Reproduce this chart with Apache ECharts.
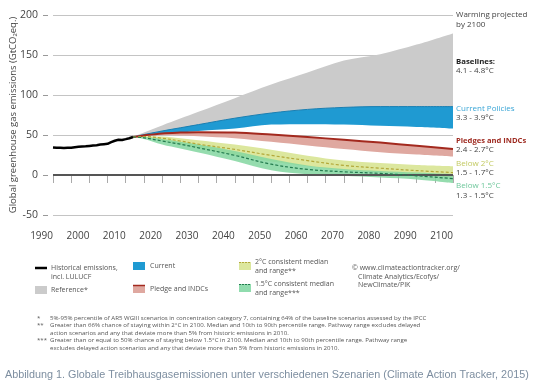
<!DOCTYPE html>
<html><head><meta charset="utf-8">
<script src="https://cdn.jsdelivr.net/npm/echarts@6/dist/echarts.min.js"></script>
<style>html,body{margin:0;padding:0;background:#fff}#c{width:540px;height:390px}</style>
</head><body><div id="c"></div>
<script>
// ---- data (GtCO2eq) ----
const histYears  = [1990,1991,1992,1993,1994,1995,1996,1997,1998,1999,2000,2001,2002,2003,2004,2005,2006,2007,2008,2009,2010,2011,2012];
const histValues = [34.5,34.2,34.0,33.8,34.0,34.2,34.8,35.2,35.5,35.8,36.3,36.8,37.3,38.0,38.5,39.0,41.0,42.8,44.0,43.7,44.8,46.0,47.5];

const projYears = [2012,2015,2020,2025,2030,2040,2050,2060,2070,2080,2090,2100];
const refLow    = [47.5,49.5,52.0,54.0,57.0,62.0,68.0,72.0,75.0,76.0,77.0,78.0];
const refHigh   = [47.5,53.0,62.0,70.5,79.0,96.0,113,128,143,151,163,177];
const curLow    = [47.5,49.0,51.5,53.0,55.0,58.0,63.0,63.5,63.0,61.5,60.0,58.0];
const curHigh   = [47.5,50.5,55.0,59.0,63.0,71.0,77.5,82.0,84.5,85.5,85.5,85.5];
const pleLow    = [47.5,49.0,50.0,49.5,48.5,46.0,41.5,37.0,32.5,28.5,25.5,23.0];
const pleHigh   = [47.5,49.5,52.0,53.0,53.5,53.0,50.5,47.5,44.0,40.5,36.5,32.5];
const t2Low     = [47.5,47.0,43.0,38.0,33.0,25.0,17.0,11.0,6.0,3.0,0.0,-3.0];
const t2Median  = [47.5,48.0,46.0,42.5,38.5,32.0,24.5,18.0,12.0,8.5,5.5,3.0];
const t2High    = [47.5,48.5,48.0,46.0,43.5,38.0,31.5,24.0,18.0,15.0,12.5,11.0];
const t15Low    = [47.5,45.0,38.0,33.0,28.0,17.5,6.0,1.0,-1.0,-3.0,-5.5,-10.0];
const t15Median = [47.5,46.5,42.5,38.5,34.0,24.5,13.5,7.0,4.0,2.0,-1.0,-4.5];
const t15High   = [47.5,47.5,45.0,41.5,38.0,30.0,20.0,12.0,7.5,5.0,3.0,1.0];

const xTickLabels = [1990,2000,2010,2020,2030,2040,2050,2060,2070,2080,2090,2100];
const yTickLabels = [-50,0,50,100,150,200];

// ---- build ----
const FONT = '"Open Sans", "Noto Sans", sans-serif';
const firstYear = xTickLabels[0], lastYear = xTickLabels[xTickLabels.length - 1];
const categories = [];
for (let y = firstYear; y <= lastYear; y++) categories.push(String(y));

const pts = arr => projYears.map((y, i) => [String(y), arr[i]]);
const diff = (hi, lo) => projYears.map((y, i) => [String(y), hi[i] - lo[i]]);

function band(id, lo, hi, color, edge) {
  return [
    { type: 'line', name: id + '_base', stack: id, stackStrategy: 'all', data: pts(lo), symbol: 'none', smooth: 0.35,
      lineStyle: { opacity: 0 }, silent: true },
    { type: 'line', name: id, stack: id, stackStrategy: 'all', data: diff(hi, lo), symbol: 'none', smooth: 0.35,
      lineStyle: edge ? edge : { opacity: 0 }, areaStyle: { color: color, opacity: 1 }, silent: true }
  ];
}

const series = [
  { type: 'line', name: 'zero', data: [[String(firstYear), 0], [String(lastYear), 0]],
    symbol: 'none', lineStyle: { color: '#555', width: 2 }, silent: true },
  ...band('ref', refLow, refHigh, '#cbcbcb'),
  ...band('cur', curLow, curHigh, '#1f9ad2', { color: '#1a7fb2', width: 1 }),
  ...band('ple', pleLow, pleHigh, '#dfa8a0'),
  ...band('t2', t2Low, t2High, '#dce79e'),
  ...band('t15', t15Low, t15High, 'rgba(130,214,160,0.85)'),
  { type: 'line', name: 'pleLine', data: pts(pleHigh), symbol: 'none', smooth: 0.35,
    lineStyle: { color: '#a3291e', width: 2 }, silent: true },
  { type: 'line', name: 't2Median', data: pts(t2Median), symbol: 'none', smooth: 0.35,
    lineStyle: { color: '#b3a83a', width: 1.2, type: [3, 2] }, silent: true },
  { type: 'line', name: 't15Median', data: pts(t15Median), symbol: 'none', smooth: 0.35,
    lineStyle: { color: '#237a4e', width: 1.2, type: [3, 2] }, silent: true },
  { type: 'line', name: 'hist', data: histYears.map((y, i) => [String(y), histValues[i]]), symbol: 'none',
    lineStyle: { color: '#000', width: 2.5 }, silent: true }
];

function txt(text, x, y, o) {
  o = o || {};
  return { type: 'text', silent: true, style: {
    text: text, x: x, y: y, fill: o.fill || '#444', fontSize: o.size || 8,
    fontFamily: o.family || FONT, fontWeight: o.weight || 'normal',
    align: o.align || 'left', verticalAlign: 'middle' } };
}

const right = [
  ['Warming projected', 15, '#444', 'normal', 8],
  ['by 2100', 24.5, '#444', 'normal', 8],
  ['Baselines:', 61.7, '#222', 'bold', 7.8],
  ['4.1 - 4.8°C', 71, '#444', 'normal', 8],
  ['Current Policies', 108.3, '#39a5d6', 'normal', 8],
  ['3.3 - 3.9°C', 118, '#444', 'normal', 8],
  ['Pledges and INDCs', 140.7, '#9e2a20', 'bold', 7.6],
  ['2.4 - 2.7°C', 150, '#444', 'normal', 8],
  ['Below 2°C', 163.3, '#c3ca62', 'normal', 8],
  ['1.5 - 1.7°C', 172.7, '#444', 'normal', 8],
  ['Below 1.5°C', 185.7, '#6ec79b', 'normal', 8],
  ['1.3 - 1.5°C', 195.3, '#444', 'normal', 8]
];

const graphics = right.map(r => txt(r[0], 456, r[1], { fill: r[2], weight: r[3], size: r[4] }));

// legend
const L = 7, LC = '#555';
graphics.push(
  { type: 'line', silent: true, shape: { x1: 35, y1: 268, x2: 47, y2: 268 }, style: { stroke: '#000', lineWidth: 2.5 } },
  txt('Historical emissions,', 51, 268, { size: L, fill: LC }),
  txt('incl. LULUCF', 51, 276.7, { size: L, fill: LC }),
  { type: 'rect', silent: true, shape: { x: 35, y: 286, width: 12, height: 8 }, style: { fill: '#cbcbcb' } },
  txt('Reference*', 51, 290, { size: L, fill: LC }),
  { type: 'rect', silent: true, shape: { x: 133, y: 262, width: 12, height: 8 }, style: { fill: '#1f9ad2' } },
  txt('Current', 150, 266, { size: L, fill: LC }),
  { type: 'rect', silent: true, shape: { x: 133, y: 285, width: 12, height: 8 }, style: { fill: '#dfa8a0' } },
  { type: 'line', silent: true, shape: { x1: 133, y1: 285.5, x2: 145, y2: 285.5 }, style: { stroke: '#a3291e', lineWidth: 1.5 } },
  txt('Pledge and INDCs', 150, 289, { size: L, fill: LC }),
  { type: 'rect', silent: true, shape: { x: 239, y: 262, width: 12, height: 8 }, style: { fill: '#dce79e' } },
  { type: 'line', silent: true, shape: { x1: 239, y1: 262.5, x2: 251, y2: 262.5 }, style: { stroke: '#b3a83a', lineWidth: 1, lineDash: [2, 1] } },
  txt('2°C consistent median', 255, 261.5, { size: L, fill: LC }),
  txt('and range**', 255, 270.5, { size: L, fill: LC }),
  { type: 'rect', silent: true, shape: { x: 239, y: 284, width: 12, height: 8 }, style: { fill: '#90dcae' } },
  { type: 'line', silent: true, shape: { x1: 239, y1: 284.5, x2: 251, y2: 284.5 }, style: { stroke: '#237a4e', lineWidth: 1, lineDash: [2, 1] } },
  txt('1.5°C consistent median', 255, 284, { size: L, fill: LC }),
  txt('and range***', 255, 292.7, { size: L, fill: LC }),
  txt('© www.climateactiontracker.org/', 352, 268.3, { size: L, fill: LC }),
  txt('Climate Analytics/Ecofys/', 358, 276.7, { size: L, fill: LC }),
  txt('NewClimate/PIK', 358, 285, { size: L, fill: LC })
);

// footnotes
const F = 6.1, FC = '#555';
const notes = [
  ['*', '5%-95% percentile of AR5 WGIII scenarios in concentration category 7, containing 64% of the baseline scenarios assessed by the IPCC', 318.3],
  ['**', 'Greater than 66% chance of staying within 2°C in 2100. Median and 10th to 90th percentile range. Pathway range excludes delayed', 325.7],
  ['', 'action scenarios and any that deviate more than 5% from historic emissions in 2010.', 332.9],
  ['***', 'Greater than or equal to 50% chance of staying below 1.5°C in 2100. Median and 10th to 90th percentile range. Pathway range', 340.7],
  ['', 'excludes delayed action scenarios and any that deviate more than 5% from historic emissions in 2010.', 348.3]
];
notes.forEach(n => {
  if (n[0]) graphics.push(txt(n[0], 37, n[2], { size: F, fill: FC }));
  graphics.push(txt(n[1], 50, n[2], { size: F, fill: FC }));
});

graphics.push(txt('Abbildung 1. Globale Treibhausgasemissionen unter verschiedenen Szenarien (Climate Action Tracker, 2015)',
  5, 375, { size: 10.8, fill: '#7d8ea0', family: '"Liberation Sans", Arial, sans-serif' }));

const chart = echarts.init(document.getElementById('c'), null, { renderer: 'canvas' });
chart.setOption({
  animation: false,
  backgroundColor: '#fff',
  grid: { left: 53, right: 87, top: 15, bottom: 175, containLabel: false, outerBoundsMode: 'none' },
  xAxis: {
    type: 'category', data: categories, boundaryGap: false, offset: 5,
    axisLine: { show: false },
    axisTick: { show: true, length: 8, interval: (i) => i % 5 === 0, lineStyle: { color: '#aaa', width: 1 } },
    splitLine: { show: false },
    axisLabel: {
      margin: 11, fontSize: 10, color: '#444', fontFamily: FONT, align: 'right',
      interval: (i, v) => xTickLabels.indexOf(Number(v)) >= 0
    }
  },
  yAxis: {
    type: 'value', min: yTickLabels[0], max: yTickLabels[yTickLabels.length - 1], interval: 50, offset: 5,
    name: 'Global greenhouse gas emissions (GtCO₂eq.)', nameLocation: 'middle', nameGap: 30, nameMoveOverlap: false,
    nameTextStyle: { fontSize: 9.5, color: '#444', fontFamily: FONT },
    axisLine: { show: false },
    axisTick: { show: true, length: 5, lineStyle: { color: '#999', width: 1 } },
    splitLine: { show: true, lineStyle: { color: '#c4c4c4', width: 1 } },
    axisLabel: { margin: 10, fontSize: 10.5, color: '#444', fontFamily: FONT }
  },
  series: series,
  graphic: graphics
});
</script>
</body></html>
